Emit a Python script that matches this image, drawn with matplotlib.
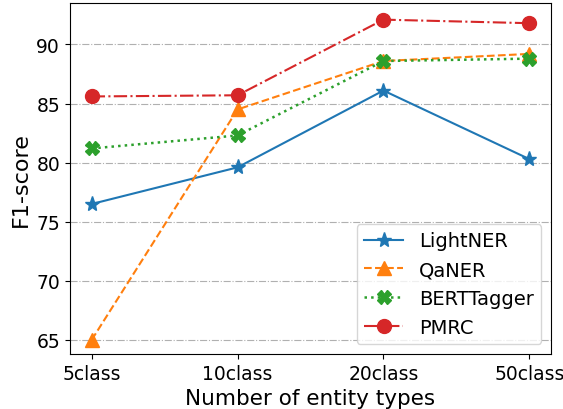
import numpy as np
import matplotlib.pyplot as plt

classes = ['5class', '10class', '20class', '50class']
lightner = [76.5, 79.6, 86.1, 80.3]
qaner = [65.0, 84.5, 88.6, 89.2]
berttagger = [81.2, 82.3, 88.6, 88.8]
pmrc = [85.6, 85.7, 92.1, 91.8]

fig, ax = plt.subplots(figsize=(5.63, 4.10), dpi=100)
fig.subplots_adjust(left=0.124, right=0.979, top=0.990, bottom=0.134)
x = np.arange(len(classes))

ax.plot(x, lightner, '-', marker='*', color='tab:blue', lw=1.5, ms=11, label='LightNER')
ax.plot(x, qaner, '--', marker='^', color='tab:orange', lw=1.5, ms=10, label='QaNER')
ax.plot(x, berttagger, ':', marker='X', color='tab:green', lw=1.8, ms=10, label='BERTTagger')
ax.plot(x, pmrc, '-.', marker='o', color='tab:red', lw=1.5, ms=10, label='PMRC')

ax.set_xticks(x)
ax.set_xticklabels(classes, fontsize=13.5)
ax.tick_params(axis='y', labelsize=13.5)
ax.set_yticks([65, 70, 75, 80, 85, 90])
ax.set_ylim(63.8, 93.5)
ax.grid(True, axis='y', linestyle='-.', color='#b0b0b0', lw=0.8)
ax.set_axisbelow(True)
ax.set_xlabel('Number of entity types', fontsize=15.5)
ax.set_ylabel('F1-score', fontsize=16)
ax.legend(loc='lower right', fontsize=14)

plt.savefig('out.png')
